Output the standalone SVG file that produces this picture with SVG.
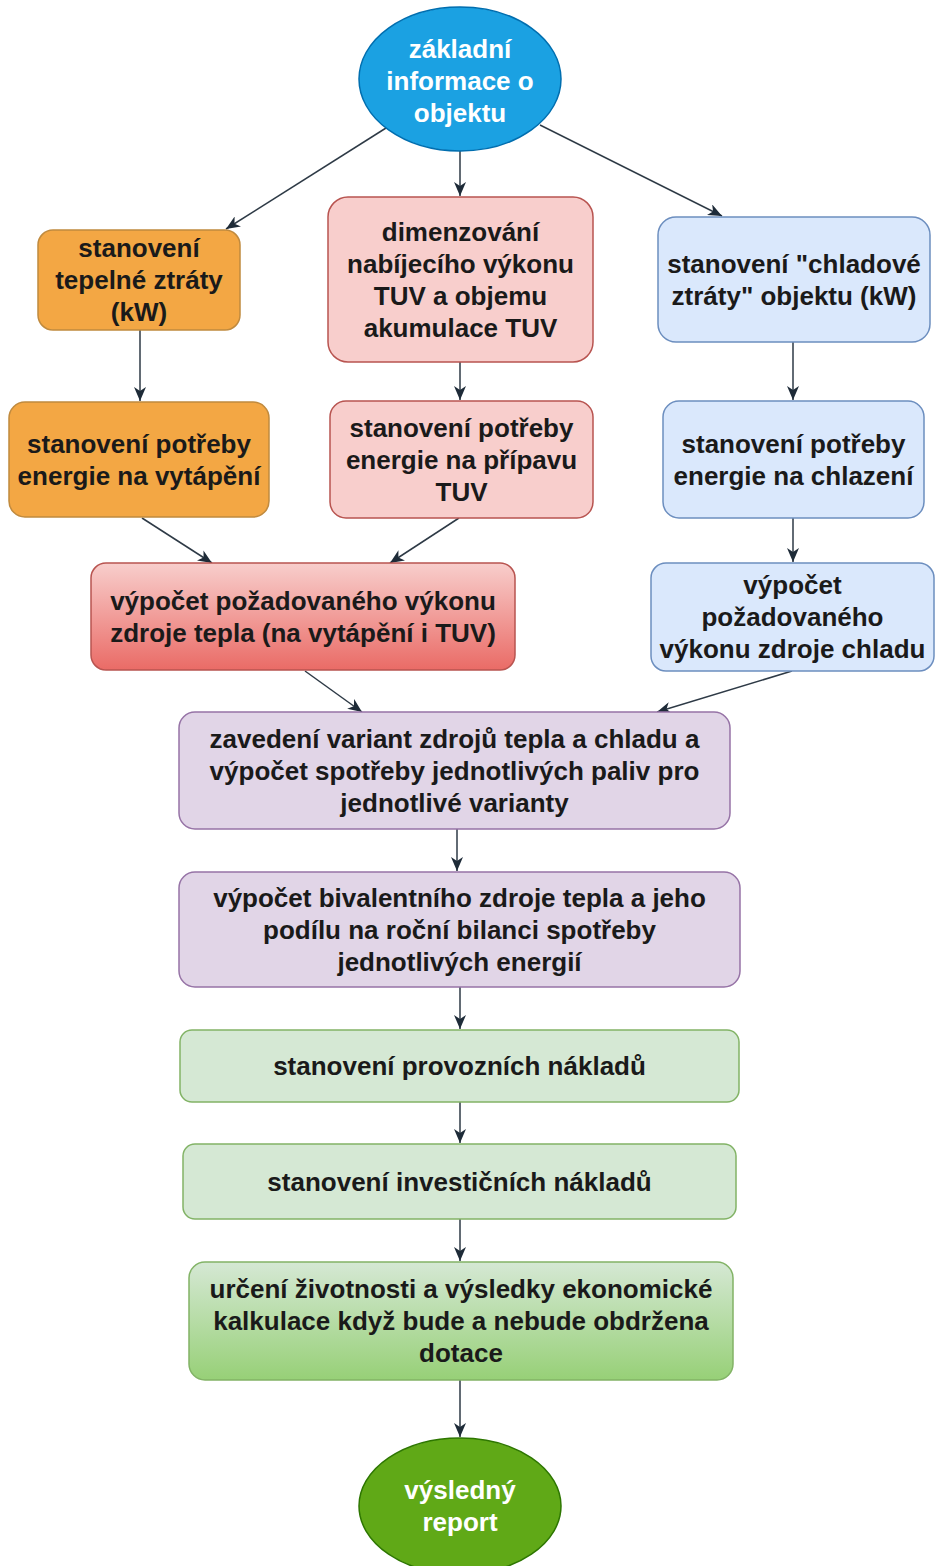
<svg xmlns="http://www.w3.org/2000/svg" width="936" height="1566" viewBox="0 0 936 1566">
<style>
.t{font-family:"Liberation Sans",Arial,sans-serif;font-weight:bold;font-size:26px;fill:#1a1a1a;text-anchor:middle}
.w{fill:#ffffff}
.c{stroke:#2e3a46;stroke-width:1.5;fill:none;marker-end:url(#ah)}
.or{fill:#f3a744;stroke:#c08a3e;stroke-width:1.5}
.pk{fill:#f8cecc;stroke:#b85450;stroke-width:1.5}
.rd{fill:url(#gr);stroke:#b85450;stroke-width:1.5}
.bl{fill:#dae8fc;stroke:#6c8ebf;stroke-width:1.5}
.pu{fill:#e1d5e7;stroke:#9673a6;stroke-width:1.5}
.gn{fill:#d5e8d4;stroke:#82b366;stroke-width:1.5}
.gg{fill:url(#gg);stroke:#82b366;stroke-width:1.5}
</style>
<defs>
<marker id="ah" viewBox="0 0 14 12" refX="14" refY="6" markerWidth="14" markerHeight="12" markerUnits="userSpaceOnUse" orient="auto">
<path d="M0,0 L14,6 L0,12 L4,6 Z" fill="#1e2b38"/>
</marker>
<linearGradient id="gr" x1="0" y1="0" x2="0" y2="1"><stop offset="0" stop-color="#f8cecc"/><stop offset="1" stop-color="#ea6b66"/></linearGradient>
<linearGradient id="gg" x1="0" y1="0" x2="0" y2="1"><stop offset="0" stop-color="#d5e8d4"/><stop offset="1" stop-color="#97d077"/></linearGradient>
</defs>
<rect width="936" height="1566" fill="#ffffff"/>
<g id="connectors">
<line class="c" x1="386" y1="128" x2="226" y2="229"/>
<line class="c" x1="460" y1="150" x2="460" y2="196"/>
<line class="c" x1="540" y1="125" x2="722" y2="216"/>
<line class="c" x1="140" y1="330" x2="140" y2="401"/>
<line class="c" x1="460" y1="362" x2="460" y2="400"/>
<line class="c" x1="793" y1="342" x2="793" y2="400"/>
<line class="c" x1="142" y1="518" x2="212" y2="563"/>
<line class="c" x1="459" y1="518" x2="390" y2="563"/>
<line class="c" x1="793" y1="518" x2="793" y2="562"/>
<line class="c" x1="305" y1="671" x2="362" y2="712"/>
<line class="c" x1="792" y1="671" x2="657" y2="712"/>
<line class="c" x1="457" y1="829" x2="457" y2="871"/>
<line class="c" x1="460" y1="987" x2="460" y2="1029"/>
<line class="c" x1="460" y1="1102" x2="460" y2="1143"/>
<line class="c" x1="460" y1="1219" x2="460" y2="1261"/>
<line class="c" x1="460" y1="1380" x2="460" y2="1437"/>
</g>
<g id="n-start">
<ellipse cx="460" cy="79" rx="101" ry="72" fill="#1ba1e2" stroke="#006eaf" stroke-width="1.5"/>
<text class="t w" x="460" y="58">základní</text>
<text class="t w" x="460" y="90">informace o</text>
<text class="t w" x="460" y="122">objektu</text>
</g>
<g id="n-tz">
<rect class="or" x="38" y="230" width="202" height="100" rx="15"/>
<text class="t" x="139" y="257">stanovení</text>
<text class="t" x="139" y="289">tepelné ztráty</text>
<text class="t" x="139" y="321">(kW)</text>
</g>
<g id="n-tuv">
<rect class="pk" x="328" y="197" width="265" height="165" rx="20"/>
<text class="t" x="460.5" y="240.5">dimenzování</text>
<text class="t" x="460.5" y="272.5">nabíjecího výkonu</text>
<text class="t" x="460.5" y="304.5">TUV a objemu</text>
<text class="t" x="460.5" y="336.5">akumulace TUV</text>
</g>
<g id="n-chz">
<rect class="bl" x="658" y="217" width="272" height="125" rx="18"/>
<text class="t" x="794" y="272.5">stanovení "chladové</text>
<text class="t" x="794" y="304.5">ztráty" objektu (kW)</text>
</g>
<g id="n-pv">
<rect class="or" x="9" y="402" width="260" height="115" rx="16"/>
<text class="t" x="139" y="452.5">stanovení potřeby</text>
<text class="t" x="139" y="484.5">energie na vytápění</text>
</g>
<g id="n-ptuv">
<rect class="pk" x="330" y="401" width="263" height="117" rx="16"/>
<text class="t" x="461.5" y="436.5">stanovení potřeby</text>
<text class="t" x="461.5" y="468.5">energie na přípavu</text>
<text class="t" x="461.5" y="500.5">TUV</text>
</g>
<g id="n-pch">
<rect class="bl" x="663" y="401" width="261" height="117" rx="16"/>
<text class="t" x="793.5" y="452.5">stanovení potřeby</text>
<text class="t" x="793.5" y="484.5">energie na chlazení</text>
</g>
<g id="n-vzt">
<rect class="rd" x="91" y="563" width="424" height="107" rx="15"/>
<text class="t" x="303" y="609.5">výpočet požadovaného výkonu</text>
<text class="t" x="303" y="641.5">zdroje tepla (na vytápění i TUV)</text>
</g>
<g id="n-vzch">
<rect class="bl" x="651" y="563" width="283" height="108" rx="15"/>
<text class="t" x="792.5" y="594">výpočet</text>
<text class="t" x="792.5" y="626">požadovaného</text>
<text class="t" x="792.5" y="658">výkonu zdroje chladu</text>
</g>
<g id="n-var">
<rect class="pu" x="179" y="712" width="551" height="117" rx="16"/>
<text class="t" x="454.5" y="747.5">zavedení variant zdrojů tepla a chladu a</text>
<text class="t" x="454.5" y="779.5">výpočet spotřeby jednotlivých paliv pro</text>
<text class="t" x="454.5" y="811.5">jednotlivé varianty</text>
</g>
<g id="n-biv">
<rect class="pu" x="179" y="872" width="561" height="115" rx="16"/>
<text class="t" x="459.5" y="906.5">výpočet bivalentního zdroje tepla a jeho</text>
<text class="t" x="459.5" y="938.5">podílu na roční bilanci spotřeby</text>
<text class="t" x="459.5" y="970.5">jednotlivých energií</text>
</g>
<g id="n-prov">
<rect class="gn" x="180" y="1030" width="559" height="72" rx="12"/>
<text class="t" x="459.5" y="1075">stanovení provozních nákladů</text>
</g>
<g id="n-inv">
<rect class="gn" x="183" y="1144" width="553" height="75" rx="12"/>
<text class="t" x="459.5" y="1190.5">stanovení investičních nákladů</text>
</g>
<g id="n-eko">
<rect class="gg" x="189" y="1262" width="544" height="118" rx="16"/>
<text class="t" x="461" y="1298">určení životnosti a výsledky ekonomické</text>
<text class="t" x="461" y="1330">kalkulace když bude a nebude obdržena</text>
<text class="t" x="461" y="1362">dotace</text>
</g>
<g id="n-end">
<ellipse cx="460" cy="1506" rx="101" ry="68" fill="#60a917" stroke="#2d7600" stroke-width="1.5"/>
<text class="t w" x="460" y="1499">výsledný</text>
<text class="t w" x="460" y="1531">report</text>
</g>
</svg>
